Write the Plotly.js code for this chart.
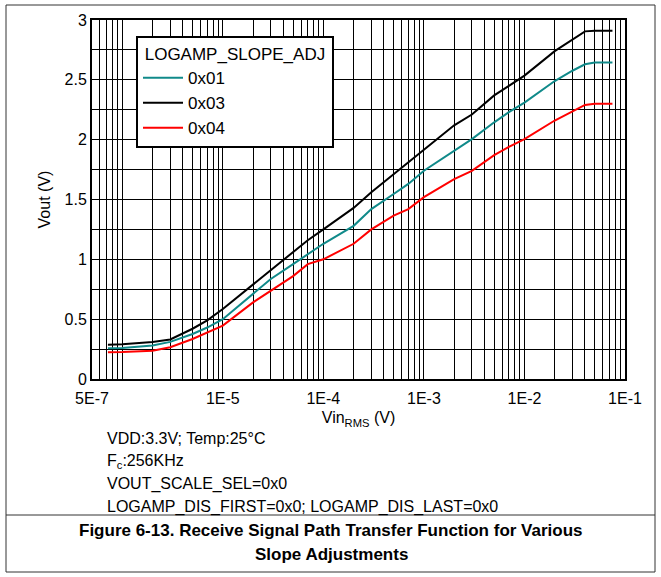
<!DOCTYPE html>
<html>
<head>
<meta charset="utf-8">
<script src="https://cdn.plot.ly/plotly-3.0.1.min.js"></script>
<style>body{margin:0;background:#fff}#chart{width:661px;height:577px}</style>
</head>
<body>
<div id="chart"></div>
<script>
// input RMS voltage (V)
var vin = [7.2e-7, 1e-6, 2e-6, 3e-6, 5e-6, 7e-6, 1e-5, 2e-5, 3e-5, 5e-5, 7e-5, 1e-4, 2e-4, 3e-4, 5e-4, 7e-4,
           1e-3, 2e-3, 3e-3, 5e-3, 7e-3, 1e-2, 2e-2, 3e-2, 4e-2, 5e-2, 7.5e-2];
var vout01 = [0.256, 0.26, 0.28, 0.31, 0.376, 0.43, 0.50, 0.71, 0.836, 0.96, 1.045, 1.13, 1.28, 1.42, 1.546, 1.63,
              1.74, 1.91, 2.005, 2.145, 2.23, 2.31, 2.49, 2.576, 2.63, 2.645, 2.645];
var vout03 = [0.287, 0.29, 0.31, 0.33, 0.42, 0.49, 0.585, 0.79, 0.905, 1.06, 1.16, 1.25, 1.43, 1.56, 1.71, 1.81,
              1.91, 2.12, 2.21, 2.37, 2.45, 2.535, 2.74, 2.84, 2.905, 2.91, 2.91];
var vout04 = [0.223, 0.225, 0.237, 0.265, 0.334, 0.39, 0.446, 0.64, 0.74, 0.86, 0.96, 1.00, 1.13, 1.25, 1.365, 1.42,
              1.52, 1.67, 1.74, 1.87, 1.94, 2.005, 2.16, 2.24, 2.29, 2.30, 2.30];
var xTickVals = [5e-7, 1e-5, 1e-4, 1e-3, 1e-2, 1e-1];
var xTickText = ["5E-7", "1E-5", "1E-4", "1E-3", "1E-2", "1E-1"];
var notes = ["VDD:3.3V; Temp:25°C", "F<sub>c</sub>:256KHz", "VOUT_SCALE_SEL=0x0", "LOGAMP_DIS_FIRST=0x0; LOGAMP_DIS_LAST=0x0"];

var font = "Liberation Sans, Arial, sans-serif";
function py(p){ return (379 - p) / 359; }

var traces = [
  {x: vin, y: vout01, name: "0x01", mode: "lines", line: {color: "#108a8a", width: 2}},
  {x: vin, y: vout03, name: "0x03", mode: "lines", line: {color: "#000000", width: 2}},
  {x: vin, y: vout04, name: "0x04", mode: "lines", line: {color: "#ff0000", width: 2}}
];

var ann = notes.map(function(t, i){
  return {text: t, xref: "paper", yref: "paper", x: (105 - 92) / 533, y: py(438 + 23 * i),
          xanchor: "left", yanchor: "middle", showarrow: false, font: {size: 16, color: "#000"}};
});
ann.push({text: "<b>Figure 6-13. Receive Signal Path Transfer Function for Various</b>", xref: "paper", yref: "paper",
  x: (331 - 92) / 533, y: py(530), xanchor: "center", yanchor: "middle", showarrow: false, font: {size: 17, color: "#000"}});
ann.push({text: "<b>Slope Adjustments</b>", xref: "paper", yref: "paper",
  x: (331 - 92) / 533, y: py(554), xanchor: "center", yanchor: "middle", showarrow: false, font: {size: 17, color: "#000"}});

var layout = {
  width: 661, height: 577,
  margin: {l: 92, r: 36, t: 20, b: 198},
  paper_bgcolor: "#fff", plot_bgcolor: "#fff",
  font: {family: font, size: 16, color: "#000"},
  showlegend: true,
  legend: {x: (136 - 92) / 533, y: py(36), xanchor: "left", yanchor: "top", bgcolor: "#fff",
           bordercolor: "#000", borderwidth: 2, font: {size: 17}, itemwidth: 40, tracegroupgap: 0,
           title: {text: " LOGAMP_SLOPE_ADJ ", side: "top", font: {size: 17}}},
  xaxis: {type: "log", range: [Math.log10(5e-7), -1], tickvals: xTickVals, ticktext: xTickText,
          showgrid: true, gridcolor: "#000", gridwidth: 1, showline: true, linecolor: "#000", linewidth: 2, mirror: true,
          ticks: "", zeroline: false, ticklabelstandoff: 4,
          minor: {dtick: "D1", showgrid: true, gridcolor: "#000", gridwidth: 1, ticks: ""},
          title: {text: "Vin<sub>RMS</sub> (V)", font: {size: 16}, standoff: 6}},
  yaxis: {range: [0, 3], dtick: 0.5, showgrid: true, gridcolor: "#000", gridwidth: 1,
          showline: true, linecolor: "#000", linewidth: 2, mirror: true, ticks: "", zeroline: false,
          minor: {dtick: 0.25, showgrid: true, gridcolor: "#000", gridwidth: 1},
          title: {text: "Vout (V)", font: {size: 16}, standoff: 10}},
  annotations: ann,
  shapes: [
    {type: "rect", xref: "paper", yref: "paper", x0: (6 - 92) / 533, x1: (655 - 92) / 533, y0: py(572), y1: py(5),
     line: {color: "#333", width: 1}},
    {type: "line", xref: "paper", yref: "paper", x0: (6 - 92) / 533, x1: (655 - 92) / 533, y0: py(515), y1: py(515),
     line: {color: "#333", width: 1}}
  ]
};

Plotly.newPlot("chart", traces, layout, {displayModeBar: false, staticPlot: true});
</script>
</body>
</html>
